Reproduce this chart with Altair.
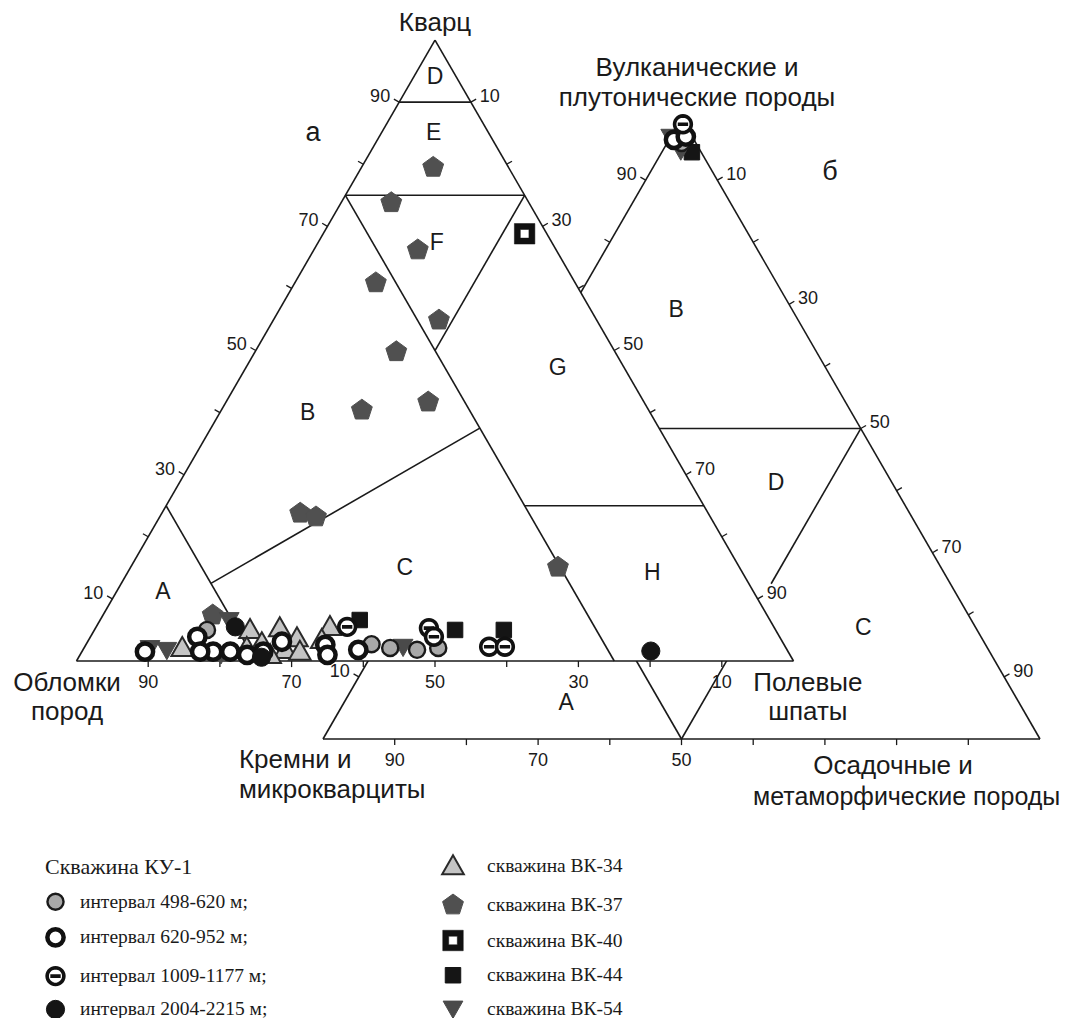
import math
import altair as alt
import pandas as pd

# ---------------- values ----------------
# Diagram a: (Q = Кварц, F = Полевые шпаты, L = Обломки пород), %
ku_498_a = [(5.0, 15.7, 79.3), (2.7, 39.8, 57.5), (2.1, 42.7, 55.2), (1.8, 46.6, 51.6), (2.1, 49.4, 48.5)]
ku_620_a = [(1.5, 8.8, 89.7), (3.9, 14.9, 81.2), (1.5, 18.3, 80.2), (1.5, 20.7, 77.8), (1.5, 25.3, 73.2),
            (3.1, 27.1, 69.8), (2.6, 33.4, 64.0), (1.0, 34.5, 64.5), (1.8, 38.4, 59.8), (1.5, 16.5, 82.0),
            (1.0, 23.3, 75.7)]
ku_1009_a = [(5.5, 35.0, 59.5), (5.3, 46.5, 48.2), (3.9, 47.9, 48.2), (2.3, 56.4, 41.3), (2.3, 58.6, 39.1)]
ku_2004_a = [(1.6, 79.3, 19.1), (5.5, 19.4, 75.1), (0.6, 25.5, 73.9)]
vk34_a = [(2.1, 13.7, 84.2), (5.0, 21.7, 73.3), (2.9, 24.4, 72.7), (5.3, 25.7, 69.0), (1.8, 28.2, 70.0),
          (3.7, 28.9, 67.4), (2.1, 22.7, 75.2), (1.0, 26.5, 72.5), (5.5, 32.6, 61.9), (1.5, 30.4, 68.1),
          (3.4, 32.5, 64.1)]
vk37_a = [(79.5, 10.0, 10.5), (73.8, 7.0, 19.2), (66.2, 14.5, 19.3), (60.9, 11.3, 27.8), (54.9, 23.1, 22.0),
          (49.8, 19.7, 30.5), (40.4, 19.6, 40.0), (41.7, 28.2, 30.1), (23.8, 19.3, 56.9), (23.2, 21.8, 55.0),
          (15.1, 59.6, 25.3), (7.4, 15.3, 77.3)]
vk40_a = [(68.8, 28.1, 3.1)]
vk44_a = [(6.6, 36.2, 57.2), (5.0, 50.3, 44.7), (5.0, 57.1, 37.9)]
vk54_a = [(2.1, 9.2, 88.7), (1.8, 11.7, 86.5), (6.6, 18.0, 75.4), (1.1, 19.6, 79.3), (2.3, 44.4, 53.3)]

# Diagram b: (V = Вулканические и плутонические, Ch = Кремни, S = Осадочные и метаморфические), %
ku_498_b = [(96.0, 2.0, 2.0)]
ku_620_b = [(96.5, 2.8, 0.7), (97.0, 0.9, 2.1)]
ku_1009_b = [(99.0, 0.3, 0.7)]
ku_2004_b = []
vk34_b, vk37_b, vk40_b = [], [], []
vk44_b = [(94.5, 1.3, 4.2)]
vk54_b = [(97.0, 3.0, 0.0), (94.8, 2.7, 2.5)]

KU_LABELS = ["интервал 498-620 м;", "интервал 620-952 м;", "интервал 1009-1177 м;", "интервал 2004-2215 м;"]
VK_LABELS = ["скважина ВК-34", "скважина ВК-37", "скважина ВК-40", "скважина ВК-44", "скважина ВК-54"]
KU_TITLE = "Скважина КУ-1"

TICK_VALUES = [10, 20, 30, 40, 50, 60, 70, 80, 90]
LABELLED = [90, 70, 50, 30, 10]
B_BASE_LABELLED = [90, 70, 50]

# field boundaries of diagram a (Q, F, L) and diagram b (V, Ch, S)
A_LINES = [((90, 0, 10), (90, 10, 0)), ((75, 0, 25), (75, 25, 0)), ((75, 0, 25), (0, 75, 25)),
           ((75, 25, 0), (50, 25, 25)), ((25, 50, 25), (25, 75, 0)), ((25, 0, 75), (0, 25, 75)),
           ((12.5, 12.5, 75), (37.5, 37.5, 25))]
B_LINES = [((50, 50, 0), (50, 0, 50)), ((50, 0, 50), (25, 25, 50)), ((14, 36, 50), (0, 50, 50)),
           ((50, 50, 0), (0, 50, 50))]
A_FIELDS = [("D", 94, 3, 3), ("E", 85, 7.3, 7.7), ("F", 67.3, 16.6, 16.1), ("B", 39.9, 12.3, 47.8),
            ("G", 47.2, 43.5, 9.3), ("C", 15.0, 38.3, 46.7), ("A", 11.1, 6.5, 82.4), ("H", 14.2, 73.2, 12.6)]
B_FIELDS = [("B", 69.1, 16.2, 14.7), ("D", 41.2, 16.2, 42.6), ("C", 17.9, 15.7, 66.4), ("A", 5.8, 63.2, 31.0)]
# ----------------------------------------------------------------

INK = "#1a1a1a"
SANS = "Liberation Sans"
SERIF = "Liberation Serif"
H3 = math.sqrt(3) / 2
U = 7.17                      # px per 1 % of triangle side
BX, BY = 34.38, -10.88        # offset of diagram b in triangle units
W, H = 1056, 1010
XMIN = -(76.5 - 8) / U
XMAX = XMIN + W / U
YMAX = (661 - 8) / U
YMIN = YMAX - H / U


def ta(q, f, l):
    s = q + f + l
    q, f = 100 * q / s, 100 * f / s
    return f + q / 2, q * H3


def tb(v, c, s):
    t = v + c + s
    v, s = 100 * v / t, 100 * s / t
    return BX + s + v / 2, BY + v * H3


def seg(p, q):
    return {"x": p[0], "y": p[1], "x2": q[0], "y2": q[1]}


xs = alt.Scale(domain=[XMIN, XMAX], nice=False, zero=False)
ys = alt.Scale(domain=[YMIN, YMAX], nice=False, zero=False)


def X():
    return alt.X("x", type="quantitative", scale=xs, axis=None)


def Y():
    return alt.Y("y", type="quantitative", scale=ys, axis=None)


def rules(rows, width=1.5):
    return alt.Chart(pd.DataFrame(rows)).mark_rule(color=INK, strokeWidth=width).encode(
        x=X(), y=Y(), x2="x2:Q", y2="y2:Q")


def texts(rows, size, align="center", font=SANS):
    return alt.Chart(pd.DataFrame(rows)).mark_text(
        font=font, fontSize=size, color=INK, align=align, baseline="middle").encode(
        x=X(), y=Y(), text="t:N")


nL, nR, nB = (-H3, 0.5), (H3, 0.5), (0.0, -1.0)
TL, LO, BO = 0.85, 1.45, 3.05


def tick_rows(fn, n, vals):
    out = []
    for t in vals:
        x, y = fn(t)
        out.append(seg((x, y), (x + n[0] * TL, y + n[1] * TL)))
    return out


def tick_text(fn, n, vals, off):
    out = []
    for t in vals:
        x, y = fn(t)
        out.append({"x": x + n[0] * off, "y": y + n[1] * off, "t": str(t)})
    return out


# edges
aL = lambda t: ta(t, 0, 100 - t)
aR = lambda t: ta(100 - t, t, 0)
aB = lambda t: ta(0, 100 - t, t)
bL = lambda t: tb(t, 100 - t, 0)
bR = lambda t: tb(100 - t, 0, t)
bB = lambda t: tb(0, t, 100 - t)

# ---- diagram b (drawn first, partly hidden by diagram a) ----
b_rows = [seg(tb(100, 0, 0), tb(0, 100, 0)), seg(tb(0, 100, 0), tb(0, 0, 100)), seg(tb(0, 0, 100), tb(100, 0, 0))]
b_rows += [seg(tb(*p), tb(*q)) for p, q in B_LINES]
b_ticks = tick_rows(bL, nL, TICK_VALUES) + tick_rows(bR, nR, TICK_VALUES) + tick_rows(bB, nB, TICK_VALUES)
b_fields = [{"x": tb(v, c, s)[0], "y": tb(v, c, s)[1], "t": n} for n, v, c, s in B_FIELDS]

layers = [
    rules(b_rows, 1.6),
    rules(b_ticks, 1.3),
    texts(tick_text(bL, nL, LABELLED, LO), 18, "right"),
    texts(tick_text(bR, nR, LABELLED, LO), 18, "left"),
    texts(tick_text(bB, nB, B_BASE_LABELLED, BO), 18, "center"),
    texts(b_fields, 23),
]

# ---- white body of diagram a ----
apex = ta(100, 0, 0)
fill_a = pd.DataFrame({"x": [0.0, apex[0], 100.0], "y": [0.0, apex[1], 0.0], "y0": [0.0, 0.0, 0.0]})
layers.append(alt.Chart(fill_a).mark_area(color="white", opacity=1, interpolate="linear").encode(
    x=X(), y=Y(), y2="y0:Q"))

# ---- diagram a ----
a_rows = [seg(ta(100, 0, 0), ta(0, 0, 100)), seg(ta(0, 0, 100), ta(0, 100, 0)), seg(ta(0, 100, 0), ta(100, 0, 0))]
a_rows += [seg(ta(*p), ta(*q)) for p, q in A_LINES]
a_ticks = tick_rows(aL, nL, TICK_VALUES) + tick_rows(aR, nR, TICK_VALUES) + tick_rows(aB, nB, TICK_VALUES)
a_fields = [{"x": ta(q, f, l)[0], "y": ta(q, f, l)[1], "t": n} for n, q, f, l in A_FIELDS]
layers += [
    rules(a_rows, 1.6),
    rules(a_ticks, 1.3),
    texts(tick_text(aL, nL, LABELLED, LO), 18, "right"),
    texts(tick_text(aR, nR, LABELLED, LO), 18, "left"),
    texts(tick_text(aB, nB, LABELLED, BO), 18, "center"),
    texts(a_fields, 23),
]

# ---- vertex captions (offsets from the vertices, in triangle units) ----
vQ, vL, vF = ta(100, 0, 0), ta(0, 0, 100), ta(0, 100, 0)
vV, vC, vS = tb(100, 0, 0), tb(0, 100, 0), tb(0, 0, 100)
center_caps = [
    {"x": vQ[0], "y": vQ[1] + 2.4, "t": "Кварц"},
    {"x": vV[0] + 2.16, "y": vV[1] + 6.99, "t": "Вулканические и"},
    {"x": vV[0] + 2.16, "y": vV[1] + 2.8, "t": "плутонические породы"},
    {"x": vL[0] - 1.32, "y": vL[1] - 3.07, "t": "Обломки"},
    {"x": vL[0] - 1.32, "y": vL[1] - 7.11, "t": "пород"},
    {"x": vF[0] + 2.0, "y": vF[1] - 3.07, "t": "Полевые"},
    {"x": vF[0] + 2.0, "y": vF[1] - 7.11, "t": "шпаты"},
    {"x": vS[0] - 20.5, "y": vS[1] - 3.77, "t": "Осадочные и"},
]
wide_caps = [
    {"x": vS[0] - 18.6, "y": vS[1] - 8.09, "t": "метаморфические породы"},
]
left_caps = [
    {"x": vC[0] - 11.72, "y": vC[1] - 2.93, "t": "Кремни и"},
    {"x": vC[0] - 11.72, "y": vC[1] - 7.12, "t": "микрокварциты"},
]
letters = [
    {"x": vQ[0] - 17.0, "y": vQ[1] - 12.96, "t": "а"},
    {"x": vV[0] + 20.7, "y": vV[1] - 7.5, "t": "б"},
]
layers += [texts(center_caps, 26), texts(wide_caps, 25), texts(left_caps, 26, "left"), texts(letters, 27)]

# ---- points ----
def ring_path(n=28):
    pts_ = ["%s%.4f,%.4f" % ("M" if i == 0 else "L", math.cos(2 * math.pi * i / n), math.sin(2 * math.pi * i / n))
            for i in range(n)]
    return "".join(pts_) + "Z"


THETA = ring_path() + " M-0.62,0L0.62,0"
TRI_UP = "M0,-1L1,0.75L-1,0.75Z"
TRI_DOWN = "M-1,-0.75L1,-0.75L0,1Z"
PENTAGON = "M0,-1L0.951,-0.309L0.588,0.809L-0.588,0.809L-0.951,-0.309Z"
RING_SQ = "M-1,-1L1,-1L1,1L-1,1Z M-0.42,-0.42L-0.42,0.42L0.42,0.42L0.42,-0.42Z"


def pts(groups):
    rows = []
    for lab, alist, blist in groups:
        for c in alist:
            x, y = ta(*c)
            rows.append({"x": x, "y": y, "g": lab})
        for c in blist:
            x, y = tb(*c)
            rows.append({"x": x, "y": y, "g": lab})
    return pd.DataFrame(rows)


def point_layer(df, labels, shapes, fills, strokes, widths, sizes, legend):
    return alt.Chart(df).mark_point(filled=True, opacity=1).encode(
        x=X(), y=Y(),
        shape=alt.Shape("g:N", scale=alt.Scale(domain=labels, range=shapes), legend=legend),
        fill=alt.Fill("g:N", scale=alt.Scale(domain=labels, range=fills), legend=legend),
        stroke=alt.Stroke("g:N", scale=alt.Scale(domain=labels, range=strokes), legend=legend),
        strokeWidth=alt.StrokeWidth("g:N", scale=alt.Scale(type="ordinal", domain=labels, range=widths), legend=legend),
        size=alt.Size("g:N", scale=alt.Scale(type="ordinal", domain=labels, range=sizes), legend=legend),
    )


leg_common = dict(orient="none", direction="vertical", labelFont=SERIF, labelColor=INK,
                  labelLimit=400, padding=0, symbolOpacity=1)
leg_ku = alt.Legend(title=KU_TITLE, legendX=37, legendY=849, titleFont=SERIF, titleFontSize=22,
                    titleFontWeight="normal", titleColor=INK, titleAnchor="start", titlePadding=13,
                    labelOffset=14, labelFontSize=19.5, rowPadding=4.8, **leg_common)
leg_vk = alt.Legend(title=None, legendX=433, legendY=846, labelOffset=22, labelFontSize=19.5,
                    rowPadding=12.5, **leg_common)

vk_df = pts([(VK_LABELS[0], vk34_a, vk34_b), (VK_LABELS[1], vk37_a, vk37_b), (VK_LABELS[2], vk40_a, vk40_b),
             (VK_LABELS[3], vk44_a, vk44_b), (VK_LABELS[4], vk54_a, vk54_b)])
ku_df = pts([(KU_LABELS[0], ku_498_a, ku_498_b), (KU_LABELS[1], ku_620_a, ku_620_b),
             (KU_LABELS[2], ku_1009_a, ku_1009_b), (KU_LABELS[3], ku_2004_a, ku_2004_b)])

layers.append(point_layer(
    vk_df, VK_LABELS,
    [TRI_UP, PENTAGON, RING_SQ, "square", TRI_DOWN],
    ["#c4c4c4", "#505050", "#111111", "#151515", "#4a4a4a"],
    ["#2a2a2a", "#505050", "#111111", "#151515", "#4a4a4a"],
    [2.0, 1.0, 0.5, 1.0, 1.0],
    [470, 480, 420, 240, 390],
    leg_vk))
layers.append(point_layer(
    ku_df, KU_LABELS,
    ["circle", "circle", THETA, "circle"],
    ["#a9a9a9", "#ffffff", "#ffffff", "#151515"],
    ["#1a1a1a", "#111111", "#111111", "#151515"],
    [2.4, 4.5, 3.6, 1.0],
    [260, 265, 280, 330],
    leg_ku))

chart = alt.layer(*layers).properties(
    width=W, height=H, padding=0, background="white",
    autosize=alt.AutoSizeParams(type="none"),
).resolve_scale(
    shape="independent", fill="independent", stroke="independent",
    strokeWidth="independent", size="independent",
).configure_view(stroke=None)

chart.save("out.html", embed_options={"renderer": "svg", "actions": False})
